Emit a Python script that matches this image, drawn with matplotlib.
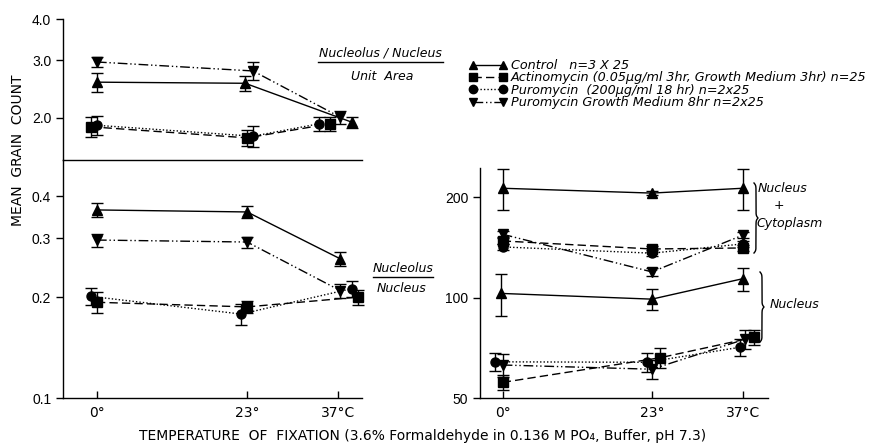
import numpy as np
import matplotlib
matplotlib.use("Agg")
import matplotlib.pyplot as plt
from matplotlib.lines import Line2D

# temperatures of fixation
temps = [0, 23, 37]
temp_labels = ["0°", "23°", "37°C"]

# nucleolus / nucleus per unit area (top left)
ctrl_ua = [2.57, 2.55, 1.94]
ctrl_ua_err = [0.17, 0.14, 0.08]
ctrl_ua_x = [0, 22.7, 39.1]
act_ua = [1.88, 1.74, 1.92]
act_ua_err = [0.13, 0.10, 0.10]
act_ua_x = [-0.9, 23, 35.7]
puro_ua = [1.90, 1.76, 1.92]
puro_ua_err = [0.13, 0.13, 0.09]
puro_ua_x = [0, 23.9, 34.0]
pgm_ua = [2.96, 2.78, 2.01]
pgm_ua_err = [0.10, 0.17, 0.09]
pgm_ua_x = [0, 23.9, 37.3]

# nucleolus / nucleus (bottom left)
ctrl_nn = [0.364, 0.359, 0.260]
ctrl_nn_err = [0.018, 0.015, 0.013]
ctrl_nn_x = [0, 23, 37.3]
act_nn = [0.193, 0.187, 0.200]
act_nn_err = [0.014, 0.008, 0.010]
act_nn_x = [0, 23, 40.0]
puro_nn = [0.201, 0.178, 0.212]
puro_nn_err = [0.012, 0.013, 0.012]
puro_nn_x = [-0.9, 22.1, 39.0]
pgm_nn = [0.296, 0.292, 0.209]
pgm_nn_err = [0.013, 0.011, 0.010]
pgm_nn_x = [0, 23, 37.3]

# nucleus + cytoplasm (right, upper group)
ctrl_nc = [213, 206, 213]
ctrl_nc_err = [30, 3, 30]
ctrl_nc_x = [0, 23, 37]
act_nc = [148, 140, 141]
act_nc_err = [3, 3, 3]
act_nc_x = [0, 23, 37]
puro_nc = [142, 136, 145]
puro_nc_err = [3, 3, 3]
puro_nc_x = [0, 23, 37]
pgm_nc = [155, 119.5, 154]
pgm_nc_err = [3, 3, 3]
pgm_nc_x = [0, 23, 37]

# nucleus (right, lower group)
ctrl_n = [103, 99, 114]
ctrl_n_err = [15, 7, 9]
ctrl_n_x = [-0.3, 23, 37]
act_n = [55.7, 66, 76]
act_n_err = [3, 4.5, 4]
act_n_x = [0, 24.2, 38.7]
puro_n = [64.2, 64, 71]
puro_n_err = [4, 4, 4]
puro_n_x = [-1.2, 22.2, 36.6]
pgm_n = [62.8, 61, 75]
pgm_n_err = [5, 4, 5]
pgm_n_x = [0, 23, 37.3]

labels = ["Control   n=3 X 25",
          "Actinomycin (0.05\u03bcg/ml 3hr, Growth Medium 3hr) n=25",
          "Puromycin  (200\u03bcg/ml 18 hr) n=2x25",
          "Puromycin Growth Medium 8hr n=2x25"]

NARROW = ["Liberation Sans Narrow", "DejaVu Sans"]
SANS = ["Liberation Sans", "DejaVu Sans"]

styles = {
    "ctrl": dict(marker="^", linestyle="-"),
    "act": dict(marker="s", linestyle=(0, (6, 3))),
    "puro": dict(marker="o", linestyle=(0, (1, 1.5))),
    "pgm": dict(marker="v", linestyle=(0, (7, 2, 1, 2, 1, 2))),
}

W, H = 878, 444


def fx(x):
    return x / W


def fy(y):
    return 1 - y / H


def draw(ax, x, y, err, key):
    st = styles[key]
    ax.errorbar(x, y, yerr=err, color="black", lw=1.0, ms=6.5,
                marker=st["marker"], linestyle=st["linestyle"],
                elinewidth=1.0, capsize=4, capthick=1.0)


def style_axis(ax, ticks, ticklabels, ylim, xlabels=True):
    ax.set_yscale("log")
    ax.set_ylim(*ylim)
    ax.spines["top"].set_visible(False)
    ax.spines["right"].set_visible(False)
    ax.yaxis.set_minor_locator(matplotlib.ticker.NullLocator())
    ax.set_yticks(ticks)
    ax.set_yticklabels(ticklabels, family=SANS, fontsize=10)
    ax.tick_params(axis="y", direction="out", length=5, width=1)
    ax.set_xticks(temps)
    if xlabels:
        ax.set_xticklabels(temp_labels, family=NARROW, fontsize=10)
        ax.tick_params(axis="x", direction="in", length=5, width=1, pad=6)
    else:
        ax.tick_params(axis="x", length=0, labelbottom=False)


fig = plt.figure(figsize=(8.78, 4.44), dpi=100)

ax_top = fig.add_axes([fx(63), fy(160), fx(299), 141 / H])
ax_bot = fig.add_axes([fx(63), fy(398), fx(299), 238 / H])
ax_r = fig.add_axes([fx(480), fy(398), fx(288), 230 / H])

for a in (ax_top, ax_bot):
    a.set_xlim(-5.2, 40.6)
ax_r.set_xlim(-3.5, 40.9)

draw(ax_top, ctrl_ua_x, ctrl_ua, ctrl_ua_err, "ctrl")
draw(ax_top, act_ua_x, act_ua, act_ua_err, "act")
draw(ax_top, puro_ua_x, puro_ua, puro_ua_err, "puro")
draw(ax_top, pgm_ua_x, pgm_ua, pgm_ua_err, "pgm")

draw(ax_bot, ctrl_nn_x, ctrl_nn, ctrl_nn_err, "ctrl")
draw(ax_bot, act_nn_x, act_nn, act_nn_err, "act")
draw(ax_bot, puro_nn_x, puro_nn, puro_nn_err, "puro")
draw(ax_bot, pgm_nn_x, pgm_nn, pgm_nn_err, "pgm")

for xs, ys, es, k in [(ctrl_nc_x, ctrl_nc, ctrl_nc_err, "ctrl"),
                      (act_nc_x, act_nc, act_nc_err, "act"),
                      (puro_nc_x, puro_nc, puro_nc_err, "puro"),
                      (pgm_nc_x, pgm_nc, pgm_nc_err, "pgm"),
                      (ctrl_n_x, ctrl_n, ctrl_n_err, "ctrl"),
                      (act_n_x, act_n, act_n_err, "act"),
                      (puro_n_x, puro_n, puro_n_err, "puro"),
                      (pgm_n_x, pgm_n, pgm_n_err, "pgm")]:
    draw(ax_r, xs, ys, es, k)

style_axis(ax_top, [2, 3, 4], ["2.0", "3.0", "4.0"], (1.49, 4.0), xlabels=False)
style_axis(ax_bot, [0.1, 0.2, 0.3, 0.4], ["0.1", "0.2", "0.3", "0.4"], (0.1, 0.513))
style_axis(ax_r, [50, 100, 200], ["50", "100", "200"], (50, 245))
for a in (ax_top, ax_bot, ax_r):
    for s in a.spines.values():
        s.set_linewidth(1.0)
    a.patch.set_alpha(0)
    for c in a.get_children():
        c.set_clip_on(False)

# axis titles
fig.text(fx(18), fy(150), "MEAN  GRAIN  COUNT", rotation=90, ha="center",
         va="center", family=NARROW, fontsize=10)
fig.text(fx(423), fy(436), "TEMPERATURE  OF  FIXATION (3.6% Formaldehyde in 0.136 M PO\u2084, Buffer, pH 7.3)",
         ha="center", va="center", family=NARROW, fontsize=10)

# panel annotations
it = dict(family=NARROW, style="italic", fontsize=9, ha="center", va="center")
fig.text(fx(380), fy(53), "Nucleolus / Nucleus", **it)
fig.add_artist(Line2D([fx(318), fx(443)], [fy(62), fy(62)], color="black", lw=1.0))
fig.text(fx(382), fy(77), "Unit  Area", **it)

fig.text(fx(403), fy(268), "Nucleolus", **it)
fig.add_artist(Line2D([fx(373), fx(433)], [fy(277), fy(277)], color="black", lw=1.0))
fig.text(fx(402), fy(288), "Nucleus", **it)

fig.text(fx(783), fy(188), "Nucleus", **it)
fig.text(fx(779), fy(205), "+", **it)
fig.text(fx(790), fy(223), "Cytoplasm", **it)
fig.text(fx(795), fy(305), "Nucleus", **it)


def brace(x0, ytop, ybot, w):
    t = np.linspace(0, 0.5, 101)
    beta = 60
    hb = 1 / (1 + np.exp(-beta * (t - t[0]))) + 1 / (1 + np.exp(-beta * (t - t[-1])))
    xs = np.concatenate([hb, hb[-2::-1]]) - 0.5
    ys = np.linspace(ytop, ybot, len(xs))
    fig.add_artist(Line2D([fx(x0 + w * v) for v in xs], [fy(v) for v in ys],
                          color="black", lw=1.0))


brace(754, 183, 253, 4)
brace(760, 272, 342, 4)

# legend
handles = [Line2D([], [], color="black", lw=1.0, ms=6, **styles[k])
           for k in ["ctrl", "act", "puro", "pgm"]]
fig.legend(handles, labels, loc="upper left", bbox_to_anchor=(fx(469), fy(59)),
           frameon=False, numpoints=2, handlelength=3.0, handletextpad=0.3,
           labelspacing=-0.05, borderaxespad=0, borderpad=0,
           prop=dict(family=NARROW, style="italic", size=9.2))

fig.savefig("out.png", dpi=100)
